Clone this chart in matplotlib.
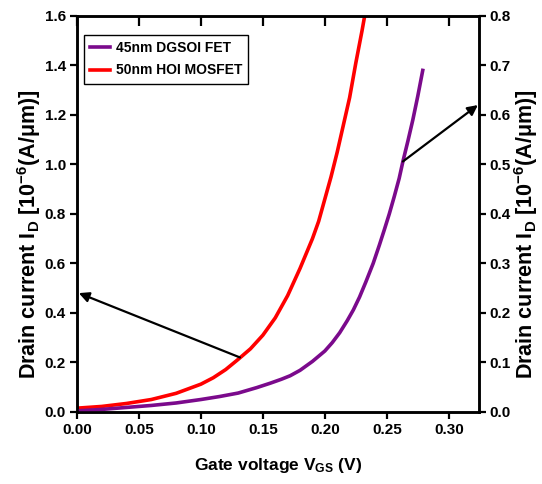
import matplotlib
matplotlib.use("Agg")
import matplotlib.pyplot as plt
from matplotlib.lines import Line2D

plt.rcParams['font.family'] = ['Liberation Sans', 'DejaVu Sans']
plt.rcParams['mathtext.fontset'] = 'custom'
plt.rcParams['mathtext.rm'] = 'Liberation Sans:bold'
plt.rcParams['mathtext.it'] = 'Liberation Sans:bold'
plt.rcParams['mathtext.bf'] = 'Liberation Sans:bold'

# 50nm HOI MOSFET (left axis)
hoi_vgs = [0.000, 0.020, 0.040, 0.060, 0.080, 0.100, 0.110, 0.120, 0.130, 0.140,
           0.150, 0.160, 0.170, 0.180, 0.190, 0.195, 0.200, 0.205, 0.210, 0.215,
           0.220, 0.225, 0.230, 0.235]
hoi_id = [0.015, 0.022, 0.034, 0.050, 0.075, 0.112, 0.138, 0.171, 0.212, 0.255,
          0.310, 0.380, 0.470, 0.580, 0.700, 0.770, 0.860, 0.950, 1.050, 1.160,
          1.270, 1.410, 1.540, 1.680]

# 45nm DGSOI FET (right axis)
dgsoi_vgs = [0.000, 0.020, 0.040, 0.060, 0.080, 0.100, 0.115, 0.130, 0.145, 0.156,
             0.165, 0.172, 0.180, 0.190, 0.200, 0.206, 0.212, 0.218, 0.223, 0.228,
             0.233, 0.239, 0.244, 0.248, 0.252, 0.256, 0.260, 0.263, 0.267, 0.271,
             0.275, 0.279]
dgsoi_id = [0.002, 0.005, 0.009, 0.013, 0.018, 0.025, 0.031, 0.038, 0.049, 0.058,
            0.066, 0.073, 0.084, 0.102, 0.123, 0.140, 0.160, 0.184, 0.206, 0.232,
            0.262, 0.300, 0.337, 0.368, 0.400, 0.435, 0.472, 0.506, 0.547, 0.590,
            0.638, 0.690]

left_ticks = [0.0, 0.2, 0.4, 0.6, 0.8, 1.0, 1.2, 1.4, 1.6]
right_ticks = [0.0, 0.1, 0.2, 0.3, 0.4, 0.5, 0.6, 0.7, 0.8]
x_ticks = [0.00, 0.05, 0.10, 0.15, 0.20, 0.25, 0.30]

red = '#ff0000'
purple = '#7b0a8c'

fig = plt.figure(figsize=(5.42, 4.84), dpi=100)
ax = fig.add_axes([0.142, 0.149, 0.742, 0.818])
ax2 = ax.twinx()

ax.plot(hoi_vgs, hoi_id, color=red, lw=2.6)
ax2.plot(dgsoi_vgs, dgsoi_id, color=purple, lw=2.6)

ax.set_xlim(0, 0.3245)
ax.set_ylim(0, 1.6)
ax2.set_ylim(0, 0.8)

ax.set_xticks(x_ticks)
ax.set_xticklabels([f"{t:.2f}" for t in x_ticks])
ax.set_yticks(left_ticks)
ax.set_yticklabels([f"{t:.1f}" for t in left_ticks])
ax2.set_yticks(right_ticks)
ax2.set_yticklabels([f"{t:.1f}" for t in right_ticks])

for a in (ax, ax2):
    for s in a.spines.values():
        s.set_linewidth(1.8)
    for lab in a.get_xticklabels() + a.get_yticklabels():
        lab.set_fontweight('bold')
        lab.set_fontsize(11)

ax.tick_params(axis='both', direction='out', length=5, width=1.6, pad=3)
ax2.tick_params(axis='y', direction='out', length=5, width=1.6, pad=2.5)

# top ticks point inward, no labels (use the twin's x axis)
ax2.xaxis.set_visible(True)
ax2.set_xticks(x_ticks)
ax2.tick_params(axis='x', which='both', bottom=False, top=True,
                labelbottom=False, labeltop=False,
                direction='in', length=7, width=1.6)

ylab = r"Drain current I$_{D}$ [10$^{-6}$(A/$\mu$m)]"
ax.set_ylabel(ylab, fontsize=15.5, fontweight='bold')
ax2.set_ylabel(ylab, fontsize=15.5, fontweight='bold')
ax.yaxis.set_label_coords(-0.085, 0.45)
ax2.yaxis.set_label_coords(1.083, 0.45)
ax.set_xlabel(r"Gate voltage V$_{GS}$ (V)", fontsize=12.5, fontweight='bold', labelpad=14)

handles = [Line2D([], [], color=purple, lw=2.6),
           Line2D([], [], color=red, lw=2.6)]
leg = ax.legend(handles, ["45nm DGSOI FET", "50nm HOI MOSFET"],
                loc='upper left', bbox_to_anchor=(0.0, 0.97),
                fancybox=False, edgecolor='black', framealpha=1,
                handlelength=1.4, handletextpad=0.45, borderpad=0.45,
                labelspacing=0.6, prop={'size': 10, 'weight': 'bold'})
leg.get_frame().set_linewidth(1.0)

arrow = dict(arrowstyle='-|>', color='black', lw=1.6, mutation_scale=15,
             shrinkA=0, shrinkB=0)
ax.annotate("", xy=(0.0015, 0.48), xytext=(0.1315, 0.22),
            arrowprops=arrow, annotation_clip=False)
ax2.annotate("", xy=(0.3235, 0.62), xytext=(0.263, 0.506),
             arrowprops=arrow, annotation_clip=False)

fig.savefig("out.png", dpi=100)
